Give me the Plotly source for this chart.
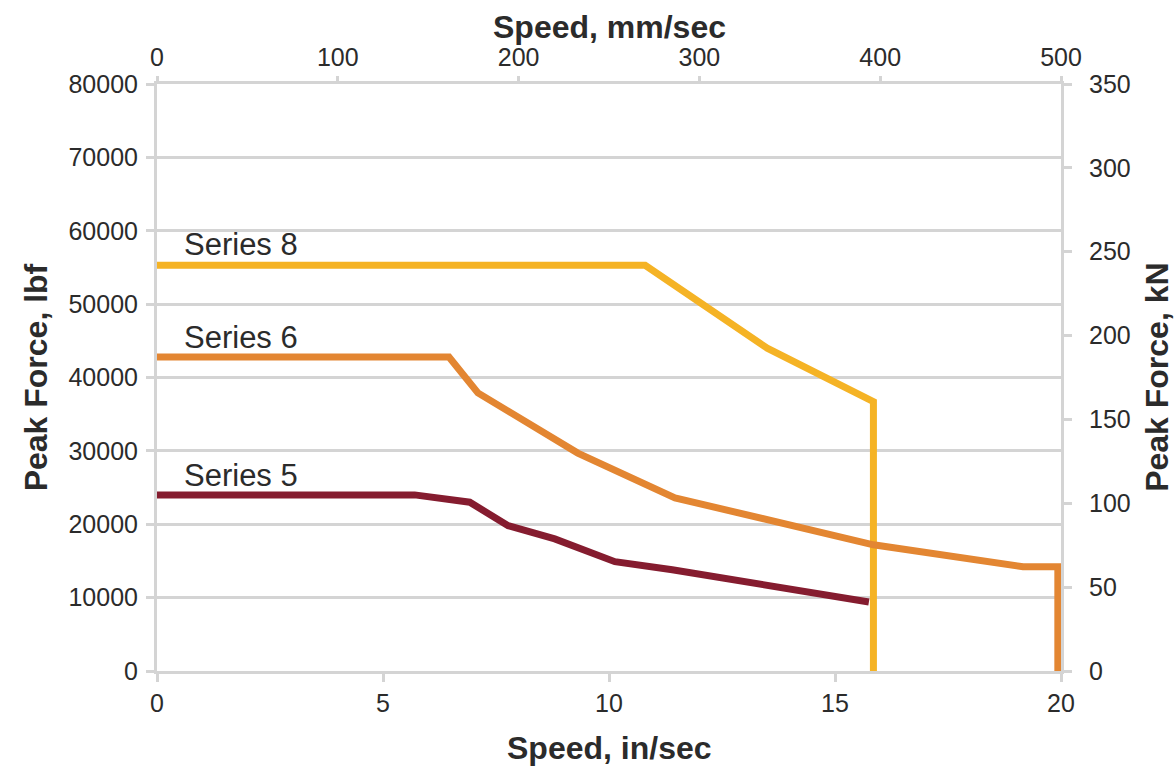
import plotly.graph_objects as go

# Data (speed in in/sec, force in lbf)
s8_x = [0, 10.8, 13.5, 15.85, 15.85]
s8_y = [55300, 55300, 44000, 36700, 0]

s6_x = [0, 6.46, 7.1, 9.31, 11.46, 15.85, 19.16, 19.93, 19.93]
s6_y = [42800, 42800, 37900, 29700, 23600, 17200, 14200, 14200, 0]

s5_x = [0, 5.7, 6.92, 7.77, 8.8, 10.13, 11.4, 15.75]
s5_y = [24000, 24000, 23000, 19800, 18000, 14900, 13800, 9400]

series_names = ["Series 8", "Series 6", "Series 5"]
label_pos_x = [0.55, 0.55, 0.55]
label_pos_y = [58100, 45400, 26700]

colors = ["#F5B325", "#E38632", "#851C2F"]

grid_col = "#D4D4D4"
text_col = "#2B2B2B"
font_fam = "Liberation Sans, Arial, sans-serif"

fig = go.Figure()
for xs, ys, c, n in zip([s8_x, s6_x, s5_x], [s8_y, s6_y, s5_y], colors, series_names):
    fig.add_trace(go.Scatter(x=xs, y=ys, mode="lines", name=n,
                             line=dict(color=c, width=7), xaxis="x", yaxis="y"))

# invisible trace to activate secondary axes
fig.add_trace(go.Scatter(x=[0, 500], y=[0, 350], mode="markers", marker=dict(opacity=0),
                         xaxis="x2", yaxis="y2", hoverinfo="skip", showlegend=False))

for n, lx, ly in zip(series_names, label_pos_x, label_pos_y):
    fig.add_annotation(x=lx, y=ly, text=n, xref="x", yref="y", showarrow=False,
                       xanchor="left", yanchor="middle",
                       font=dict(size=31, color=text_col, family=font_fam))

title_font = dict(size=32, color=text_col, family=font_fam)
fig.add_annotation(x=0.5, y=-0.131, xref="paper", yref="paper", showarrow=False,
                   text="<b>Speed, in/sec</b>", font=title_font,
                   xanchor="center", yanchor="middle")
fig.add_annotation(x=0.5, y=1.097, xref="paper", yref="paper", showarrow=False,
                   text="<b>Speed, mm/sec</b>", font=title_font,
                   xanchor="center", yanchor="middle")
fig.add_annotation(x=-0.134, y=0.5, xref="paper", yref="paper", showarrow=False,
                   text="<b>Peak Force, lbf</b>", font=title_font, textangle=-90,
                   xanchor="center", yanchor="middle")
fig.add_annotation(x=1.1055, y=0.5, xref="paper", yref="paper", showarrow=False,
                   text="<b>Peak Force, kN</b>", font=title_font, textangle=-90,
                   xanchor="center", yanchor="middle")

axis_common = dict(showline=True, linecolor=grid_col, linewidth=3,
                   ticks="outside", tickcolor=grid_col, tickwidth=3,
                   tickfont=dict(size=25, color=text_col, family=font_fam),
                   zeroline=False)

fig.update_layout(
    width=1174, height=769,
    margin=dict(l=157, r=113, t=84, b=98),
    paper_bgcolor="white", plot_bgcolor="white",
    showlegend=False,
    xaxis=dict(range=[0, 20], dtick=5, tick0=0, showgrid=False, ticklen=8,
               **axis_common),
    xaxis2=dict(range=[0, 500], dtick=100, tick0=0, overlaying="x", side="top",
                showgrid=False, ticklen=5, **axis_common),
    yaxis=dict(range=[0, 80000], dtick=10000, tick0=0, tickformat="d", ticklen=8,
               showgrid=True, gridcolor=grid_col, gridwidth=3,
               ticklabelstandoff=3, **axis_common),
    yaxis2=dict(range=[0, 350], dtick=50, tick0=0, overlaying="y", side="right",
                showgrid=False, ticklen=8, ticklabelstandoff=12, **axis_common),
)

fig.write_html("out.html",
               config={"displayModeBar": False},
               post_script="document.body.style.margin='0';document.body.style.overflow='hidden';")
